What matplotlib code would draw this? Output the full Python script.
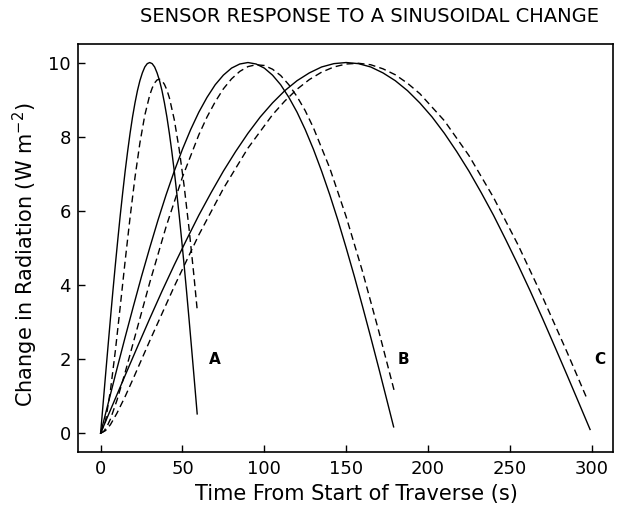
import matplotlib
matplotlib.use("Agg")
import matplotlib.pyplot as plt

# curve A (half period 60 s)
t_a_true = [0, 1.5, 3, 4.5, 6, 7.5, 9, 10.5, 12, 13.5, 15, 16.5, 18, 19.5, 21,
            22.5, 24, 25.5, 27, 28.5, 30, 31.5, 33, 34.5, 36, 37.5, 39, 40.5,
            42, 43.5, 45, 46.5, 48, 49.5, 51, 52.5, 54, 55.5, 57, 58.5, 59]
true_a = [0, 0.78, 1.56, 2.33, 3.09, 3.83, 4.54, 5.22, 5.88, 6.49, 7.07, 7.60,
          8.09, 8.53, 8.91, 9.24, 9.51, 9.72, 9.88, 9.97, 10.0, 9.97, 9.88,
          9.72, 9.51, 9.24, 8.91, 8.53, 8.09, 7.60, 7.07, 6.49, 5.88, 5.22,
          4.54, 3.83, 3.09, 2.33, 1.56, 0.78, 0.52]
t_a_sens = [0, 3, 6, 9, 12, 15, 18, 21, 24, 27, 30, 31.5, 33, 34.5, 36, 37.5,
            39, 40.5, 42, 45, 48, 51, 54, 57, 59]
sensor_a = [0, 0.33, 1.15, 2.22, 3.42, 4.65, 5.82, 6.90, 7.83, 8.58, 9.12,
            9.31, 9.45, 9.53, 9.55, 9.51, 9.41, 9.26, 9.05, 8.46, 7.66, 6.68,
            5.53, 4.25, 3.33]

# curve B (half period 180 s)
t_b_true = [0, 5, 10, 15, 20, 25, 30, 35, 40, 45, 50, 55, 60, 65, 70, 75, 80,
            85, 90, 95, 100, 105, 110, 115, 120, 125, 130, 135, 140, 145, 150,
            155, 160, 165, 170, 175, 179]
true_b = [0, 0.87, 1.74, 2.59, 3.42, 4.23, 5.0, 5.74, 6.43, 7.07, 7.66, 8.19,
          8.66, 9.06, 9.40, 9.66, 9.85, 9.96, 10.0, 9.96, 9.85, 9.66, 9.40,
          9.06, 8.66, 8.19, 7.66, 7.07, 6.43, 5.74, 5.0, 4.23, 3.42, 2.59,
          1.74, 0.87, 0.17]
t_b_sens = [0, 2, 4, 6, 10, 15, 20, 30, 40, 50, 60, 65, 70, 75, 80, 85, 90, 95,
            100, 105, 110, 115, 120, 125, 130, 140, 150, 160, 170, 179.5]
sensor_b = [0, 0.05, 0.19, 0.38, 0.89, 1.64, 2.45, 4.06, 5.57, 6.91, 8.05,
            8.53, 8.94, 9.29, 9.56, 9.76, 9.89, 9.94, 9.92, 9.82, 9.65, 9.40,
            9.08, 8.70, 8.24, 7.15, 5.84, 4.36, 2.74, 1.12]

# curve C (half period 300 s)
t_c_true = [0, 7.5, 15, 22.5, 30, 37.5, 45, 52.5, 60, 67.5, 75, 82.5, 90, 97.5,
            105, 112.5, 120, 127.5, 135, 142.5, 150, 157.5, 165, 172.5, 180,
            187.5, 195, 202.5, 210, 217.5, 225, 232.5, 240, 247.5, 255, 262.5,
            270, 277.5, 285, 292.5, 299]
true_c = [0, 0.78, 1.56, 2.33, 3.09, 3.83, 4.54, 5.22, 5.88, 6.49, 7.07, 7.60,
          8.09, 8.53, 8.91, 9.24, 9.51, 9.72, 9.88, 9.97, 10.0, 9.97, 9.88,
          9.72, 9.51, 9.24, 8.91, 8.53, 8.09, 7.60, 7.07, 6.49, 5.88, 5.22,
          4.54, 3.83, 3.09, 2.33, 1.56, 0.78, 0.10]
t_c_sens = [0, 3, 6, 10, 15, 20, 30, 45, 60, 75, 90, 105, 112.5, 120, 127.5,
            135, 142.5, 150, 157.5, 165, 172.5, 180, 187.5, 195, 210, 225, 240,
            255, 270, 285, 297.5]
sensor_c = [0, 0.07, 0.23, 0.54, 0.99, 1.48, 2.49, 3.96, 5.35, 6.60, 7.69,
            8.59, 8.96, 9.28, 9.54, 9.74, 9.88, 9.96, 9.98, 9.94, 9.83, 9.67,
            9.44, 9.16, 8.43, 7.49, 6.36, 5.08, 3.67, 2.18, 0.89]

curve_labels = ["A", "B", "C"]
label_t = [70, 185, 305]
label_y = [2.0, 2.0, 2.0]

fig = plt.figure(figsize=(6.2, 5.08), dpi=100)
ax = fig.add_axes([0.1253, 0.1108, 0.8634, 0.8026])

dash = (0, (5, 3))
ax.plot(t_a_true, true_a, color="black", lw=1.0)
ax.plot(t_a_sens, sensor_a, color="black", lw=1.0, linestyle=dash)
ax.plot(t_b_true, true_b, color="black", lw=1.0)
ax.plot(t_b_sens, sensor_b, color="black", lw=1.0, linestyle=dash)
ax.plot(t_c_true, true_c, color="black", lw=1.0)
ax.plot(t_c_sens, sensor_c, color="black", lw=1.0, linestyle=dash)

for lab, x, y in zip(curve_labels, label_t, label_y):
    ax.text(x, y, lab, ha="center", va="center", fontsize=11, fontweight="bold")

ax.set_xlim(-14, 313)
ax.set_ylim(-0.5, 10.5)
ax.set_xticks([0, 50, 100, 150, 200, 250, 300])
ax.set_yticks([0, 2, 4, 6, 8, 10])
ax.tick_params(direction="in", length=5, width=1, labelsize=13)
ax.tick_params(axis="x", pad=6)
ax.tick_params(axis="y", pad=5)
for s in ax.spines.values():
    s.set_linewidth(1.2)

fig.text(369 / 620, 1 - 17 / 508, "SENSOR RESPONSE TO A SINUSOIDAL CHANGE",
         ha="center", va="center", fontsize=14)
fig.text(356 / 620, 1 - 494 / 508, "Time From Start of Traverse (s)",
         ha="center", va="center", fontsize=15)
fig.text(25 / 620, 1 - 255 / 508, "Change in Radiation (W m$^{-2}$)",
         ha="center", va="center", rotation=90, fontsize=15)

fig.savefig("out.png", dpi=100)
